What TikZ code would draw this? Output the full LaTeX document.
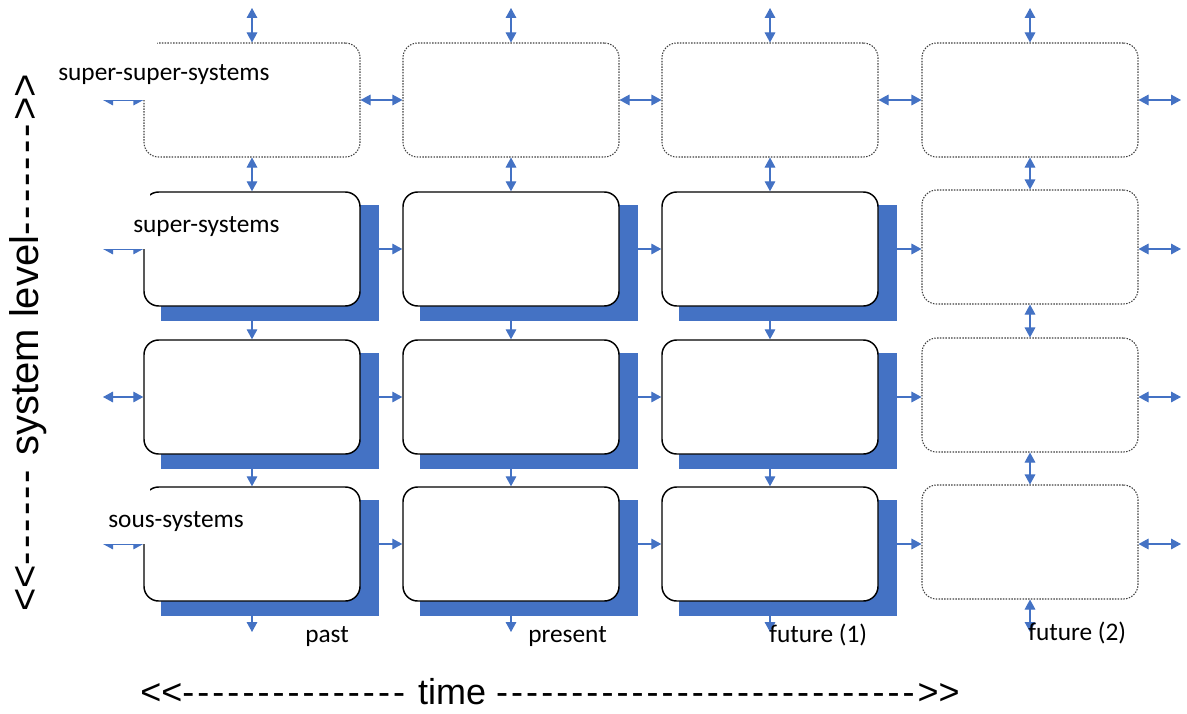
\documentclass[tikz,border=0pt]{standalone}
\usepackage{fontspec}
\setmainfont{Carlito}
\newfontfamily\arialfont[Ligatures=TeXOff]{Liberation Sans}
\usetikzlibrary{positioning}
\usetikzlibrary{arrows.meta}
\definecolor{linkblue}{RGB}{68,114,196}
\newcommand\dashrun[1]{\foreach \i in {1,...,#1}{-\kern2.3pt}}

\begin{document}
\begin{tikzpicture}[x=0.75pt, y=-0.75pt,
  sysbox/.style={draw, rounded corners=11pt, minimum width=162pt, minimum height=85.5pt, inner sep=0pt, line width=1.1pt, fill=white},
  ghostbox/.style={sysbox, densely dotted, line width=0.8pt, draw=black!75},
  shadowbox/.style={fill=linkblue, minimum width=164pt, minimum height=87pt, inner sep=0pt},
  link/.style={draw=linkblue, line width=0.8pt, -{Triangle[length=7.5pt,width=8pt]}},
  dlink/.style={link, {Triangle[length=7.5pt,width=8pt]}-{Triangle[length=7.5pt,width=8pt]}},
  lbl/.style={font=\fontsize{19}{22}\selectfont, anchor=base west, inner sep=0pt}]
  \useasboundingbox (0,0) rectangle (1187,713);

  % boxes: column c, row r
  \foreach \c/\x in {1/252,2/511,3/770,4/1030}
    \node[ghostbox] (b\c-1) at (\x,100) {};
  \foreach \r/\y in {2/249,3/397,4/544} {
    \foreach \c/\x in {1/252,2/511,3/770} {
      \node[shadowbox] (s\c-\r) at (\x+18,\y+14) {};
      \node[sysbox] (b\c-\r) at (\x,\y) {};
    }
    \node[ghostbox] (b4-\r) at (1030,\y-2) {};
  }

  % vertical links
  \foreach \c/\x in {1/252,2/511,3/770,4/1030} {
    \coordinate (t\c) at (\x,8);
    \coordinate (u\c) at (\x,632);
    \draw[dlink] (t\c) -- (b\c-1.north);
    \draw[dlink] (b\c-1.south) -- (b\c-2.north);
  }
  \foreach \c in {1,2,3} {
    \draw[link] (b\c-2.south) -- (b\c-3.north);
    \draw[link] (b\c-3.south) -- (b\c-4.north);
    \draw[link] (b\c-4.south) -- (u\c);
  }
  \draw[dlink] (b4-2.south) -- (b4-3.north);
  \draw[dlink] (b4-3.south) -- (b4-4.north);
  \draw[dlink] (b4-4.south) -- (u4);

  % horizontal links
  \foreach \r/\y in {1/100,2/249,3/397,4/544} {
    \coordinate (l\r) at (103,\y);
    \coordinate (r\r) at (1181,\y);
    \draw[dlink] (l\r) -- (b1-\r.west);
    \draw[dlink] (b4-\r.east |- l\r) -- (r\r);
  }
  \draw[dlink] (b1-1) -- (b2-1);
  \draw[dlink] (b2-1) -- (b3-1);
  \draw[dlink] (b3-1) -- (b4-1);
  \foreach \r in {2,3,4} {
    \draw[link] (b1-\r.east) -- (b2-\r.west);
    \draw[link] (b2-\r.east) -- (b3-\r.west);
    \draw[link] (b3-\r.east) -- (b4-\r.west |- b3-\r.east);
  }

  % level labels
  \fill[white] (96,35) rectangle (157,100);
  \fill[white] (96,185) rectangle (150,249);
  \fill[white] (96,480) rectangle (150,544);
  \node[lbl] (ssup) at (58,81) {super-super-systems};
  \node[lbl] (sup) at (133,232) {super-systems};
  \node[lbl] (sous) at (108,527) {sous-systems};

  % time labels
  \node[lbl] (past) at (305,642) {past};
  \node[lbl] (present) at (528,642) {present};
  \node[lbl] (fut1) at (769,642) {future (1)};
  \node[lbl] (fut2) at (1028,640) {future (2)};

  % axes
  \node[font=\arialfont\fontsize{27}{31}\selectfont, anchor=base west, inner sep=0pt] (time) at (140,704)
    {<<\dashrun{15} time \dashrun{28}>>};
  \node[font=\arialfont\fontsize{30}{34}\selectfont, rotate=90, inner sep=0pt] (level) at (28,343)
    {<<\dashrun{6} system level\dashrun{7}>>};
\end{tikzpicture}
\end{document}
